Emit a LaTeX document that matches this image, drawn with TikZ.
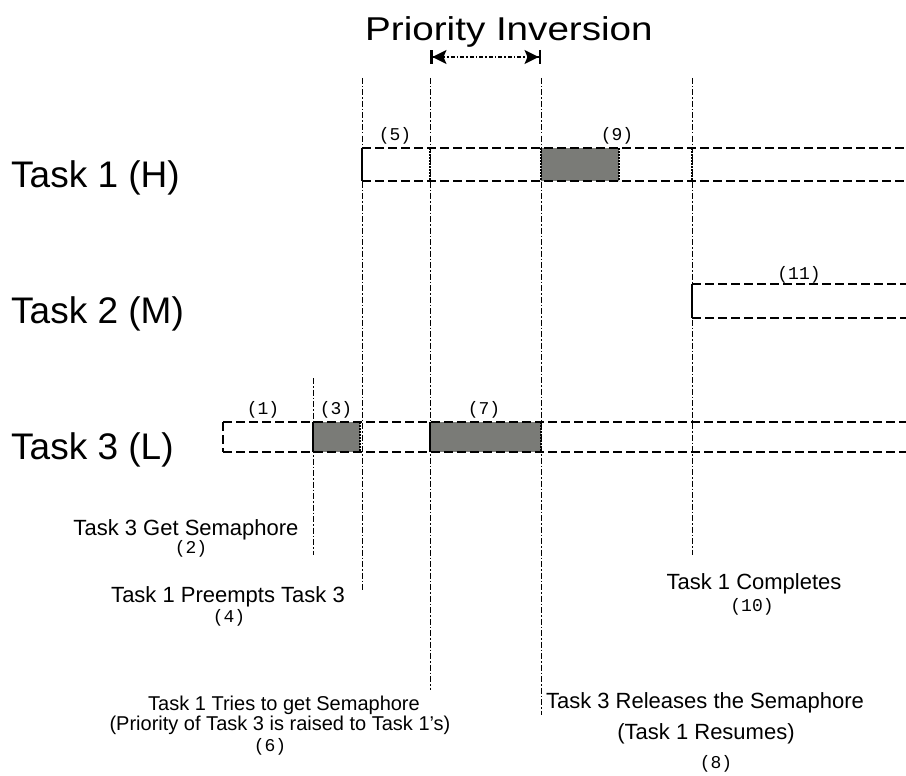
\documentclass[tikz,border=0pt]{standalone}
\usepackage{fontspec}
\setmainfont{Liberation Sans}
\newfontfamily\numfont{Liberation Mono}
\usetikzlibrary{arrows.meta}
\definecolor{boxgray}{RGB}{122,123,119}
\begin{document}
\begin{tikzpicture}[x=1pt,y=-1pt,
  eventline/.style={line width=0.9pt, dash pattern=on 6pt off 2pt on 1.5pt off 2pt},
  rowline/.style={line width=1.4pt, dash pattern=on 9pt off 4pt},
  busy/.style={fill=boxgray},
  solidedge/.style={line width=1.4pt},
  tickmark/.style={line width=1.7pt, dash pattern=on 2pt off 1pt},
  num/.style={font=\numfont\fontsize{18}{18}\selectfont, inner sep=0pt},
  lbl/.style={font=\fontsize{22}{22}\selectfont, inner sep=0pt, anchor=base},
  lblsmall/.style={font=\fontsize{20}{20}\selectfont, inner sep=0pt, anchor=base},
  tasklbl/.style={font=\fontsize{37}{37}\selectfont, inner sep=0pt, anchor=base west},
  piarrow/.style={line width=1.1pt, dash pattern=on 4pt off 2pt on 1.5pt off 2pt,
    {Bar[width=14pt,line width=2.5pt]Stealth[length=14pt,width=14pt,inset=3pt]}-{Stealth[length=14pt,width=14pt,inset=3pt]Bar[width=14pt,line width=2.5pt]}}
]
\fill[white] (0,0) rectangle (906,776);
\useasboundingbox (0,0) rectangle (906,776);

% title
\node[anchor=base west, inner sep=0pt, font=\fontsize{33}{33}\selectfont] (title) at (365,41) {\scalebox{1.17}[1]{Priority Inversion}};
\coordinate (pa) at (430,57);
\coordinate (pb) at (541,57);
\draw[piarrow] (pa) -- (pb);

% task labels
\node[tasklbl] (t1) at (11,187) {Task 1 (H)};
\node[tasklbl] (t2) at (11,323) {Task 2 (M)};
\node[tasklbl] (t3) at (11,459) {Task 3 (L)};

% gray busy boxes
\fill[busy] (541,148) rectangle (619,181);
\fill[busy] (313,422) rectangle (360,452);
\fill[busy] (430,422) rectangle (541,452);

% event lines
\coordinate (e2t) at (313,378); \coordinate (e2b) at (313,555);
\coordinate (e4t) at (362,78);  \coordinate (e4b) at (362,590);
\coordinate (e6t) at (430,78);  \coordinate (e6b) at (430,690);
\coordinate (e8t) at (541,78);  \coordinate (e8b) at (541,715);
\coordinate (e10t) at (692,78); \coordinate (e10b) at (692,555);
\draw[eventline] (e2t) -- (e2b);
\draw[eventline] (e4t) -- (e4b);
\draw[eventline] (e6t) -- (e6b);
\draw[eventline] (e8t) -- (e8b);
\draw[eventline] (e10t) -- (e10b);

% Task 1 row
\draw[rowline] (362,148) -- (906,148);
\draw[rowline] (362,181) -- (906,181);
\draw[solidedge] (362,148) -- (362,181);
\draw[tickmark] (430,148) -- (430,181);
\draw[tickmark] (541,148) -- (541,181);
\draw[tickmark] (619,148) -- (619,181);
\draw[tickmark] (692,148) -- (692,181);

% Task 2 row
\draw[rowline] (692,284) -- (906,284);
\draw[rowline] (692,318) -- (906,318);
\draw[solidedge] (692,284) -- (692,318);

% Task 3 row
\draw[rowline] (223,422) -- (906,422);
\draw[rowline] (223,452) -- (906,452);
\draw[rowline] (223,422) -- (223,452);
\draw[solidedge] (313,422) -- (313,452);
\draw[tickmark] (360,422) -- (360,452);
\draw[solidedge] (430,422) -- (430,452);
\draw[tickmark] (541,422) -- (541,452);

% step numbers
\node[num] (n1) at (263,410) {(1)};
\node[num] (n3) at (336,410) {(3)};
\node[num] (n5) at (395,136) {(5)};
\node[num] (n7) at (484,410) {(7)};
\node[num] (n9) at (617,136) {(9)};
\node[num] (n11) at (799,275) {(11)};

% event labels
\node[lbl] (l2) at (186,535) {Task 3 Get Semaphore};
\node[num] (n2) at (191,549) {(2)};
\node[lbl] (l4) at (228,602) {Task 1 Preempts Task 3};
\node[num] (n4) at (229,618) {(4)};
\node[lbl] (l10) at (754,589) {Task 1 Completes};
\node[num] (n10) at (752,607) {(10)};
\node[lblsmall] (l6a) at (284,710) {Task 1 Tries to get Semaphore};
\node[lblsmall] (l6b) at (280,730) {(Priority of Task 3 is raised to Task 1's)};
\node[num] (n6) at (270,747) {(6)};
\node[lbl] (l8a) at (705,708) {Task 3 Releases the Semaphore};
\node[lbl] (l8b) at (706,739) {(Task 1 Resumes)};
\node[num] (n8) at (716,764) {(8)};
\end{tikzpicture}
\end{document}
